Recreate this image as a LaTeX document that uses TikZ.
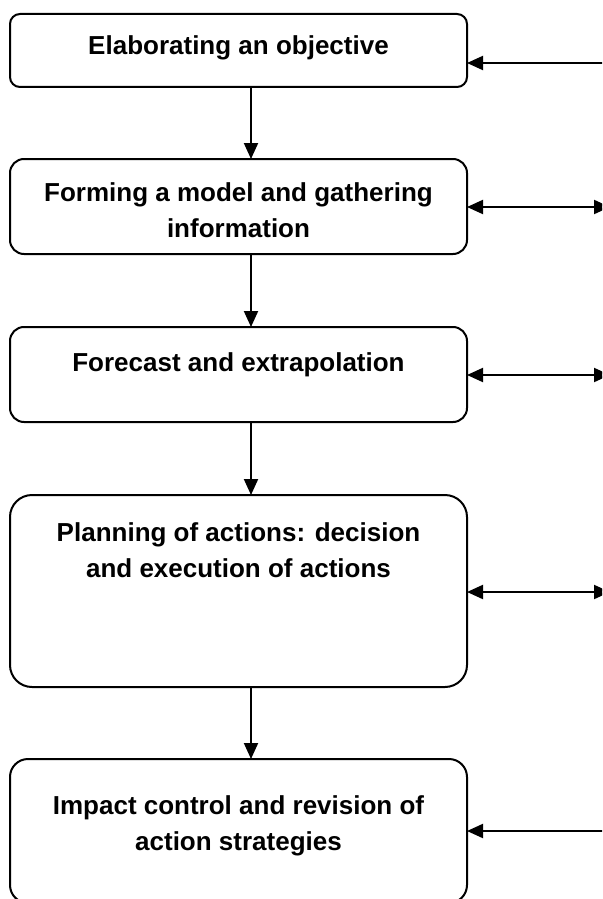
\documentclass[tikz,border=0pt]{standalone}
\usepackage{fontspec}
\setmainfont{Liberation Sans}
\usetikzlibrary{arrows.meta}
\tikzset{
	stagebox/.style={draw, line width=1pt, rounded corners=#1, minimum width=228.5pt, inner sep=0pt, outer sep=0pt},
	stagetext/.style={anchor=base, align=center, inner sep=0pt, font=\fontsize{13pt}{18pt}\selectfont\bfseries},
	flow/.style={line width=1pt, -{Triangle[length=8pt,width=7pt]}},
	sideflow/.style={line width=1pt, {Triangle[length=8pt,width=7pt]}-{Triangle[length=8pt,width=7pt]}}
}
\begin{document}
\begin{tikzpicture}[x=0.5pt,y=-0.5pt]
	\useasboundingbox (0,0) rectangle (602,899);
	\clip (0,0) rectangle (602,899);
	% stages
	\node [stagebox=5pt, minimum height=36.5pt] (obj) at (238.5,50.5) {};
	\node [stagebox=7pt, minimum height=47.5pt] (model) at (238.5,206.5) {};
	\node [stagebox=7pt, minimum height=47.5pt] (fore) at (238.5,374.5) {};
	\node [stagebox=11pt, minimum height=96pt] (plan) at (238.5,591) {};
	\node [stagebox=9pt, minimum height=72pt] (impact) at (238.5,831) {};
	% base of a two-line text is its last line
	\node [stagetext] (objtxt) at ([yshift=-20.5pt]obj.north) {Elaborating an objective};
	\node [stagetext] (modeltxt) at ([yshift=-39pt]model.north) {Forming a model and gathering\\information};
	\node [stagetext] (foretxt) at ([yshift=-22pt]fore.north) {Forecast and extrapolation};
	\node [stagetext] (plantxt) at ([yshift=-41pt]plan.north) {Planning of actions: decision\\and execution of actions};
	\node [stagetext] (impacttxt) at ([yshift=-45.5pt]impact.north) {Impact control and revision of\\action strategies};
	% flow down
	\coordinate (ax) at (251,0);
	\draw [flow] (obj.south -| ax) -- (model.north -| ax);
	\draw [flow] (model.south -| ax) -- (fore.north -| ax);
	\draw [flow] (fore.south -| ax) -- (plan.north -| ax);
	\draw [flow] (plan.south -| ax) -- (impact.north -| ax);
	% side links
	\coordinate (s1) at (610,63);
	\coordinate (s2) at (610,207);
	\coordinate (s3) at (610,375);
	\coordinate (s4) at (610,592);
	\coordinate (s5) at (610,831);
	\draw [flow] (s1) -- (s1 -| obj.east);
	\draw [sideflow] (s2 -| model.east) -- (s2);
	\draw [sideflow] (s3 -| fore.east) -- (s3);
	\draw [sideflow] (s4 -| plan.east) -- (s4);
	\draw [flow] (s5) -- (s5 -| impact.east);
\end{tikzpicture}
\end{document}
